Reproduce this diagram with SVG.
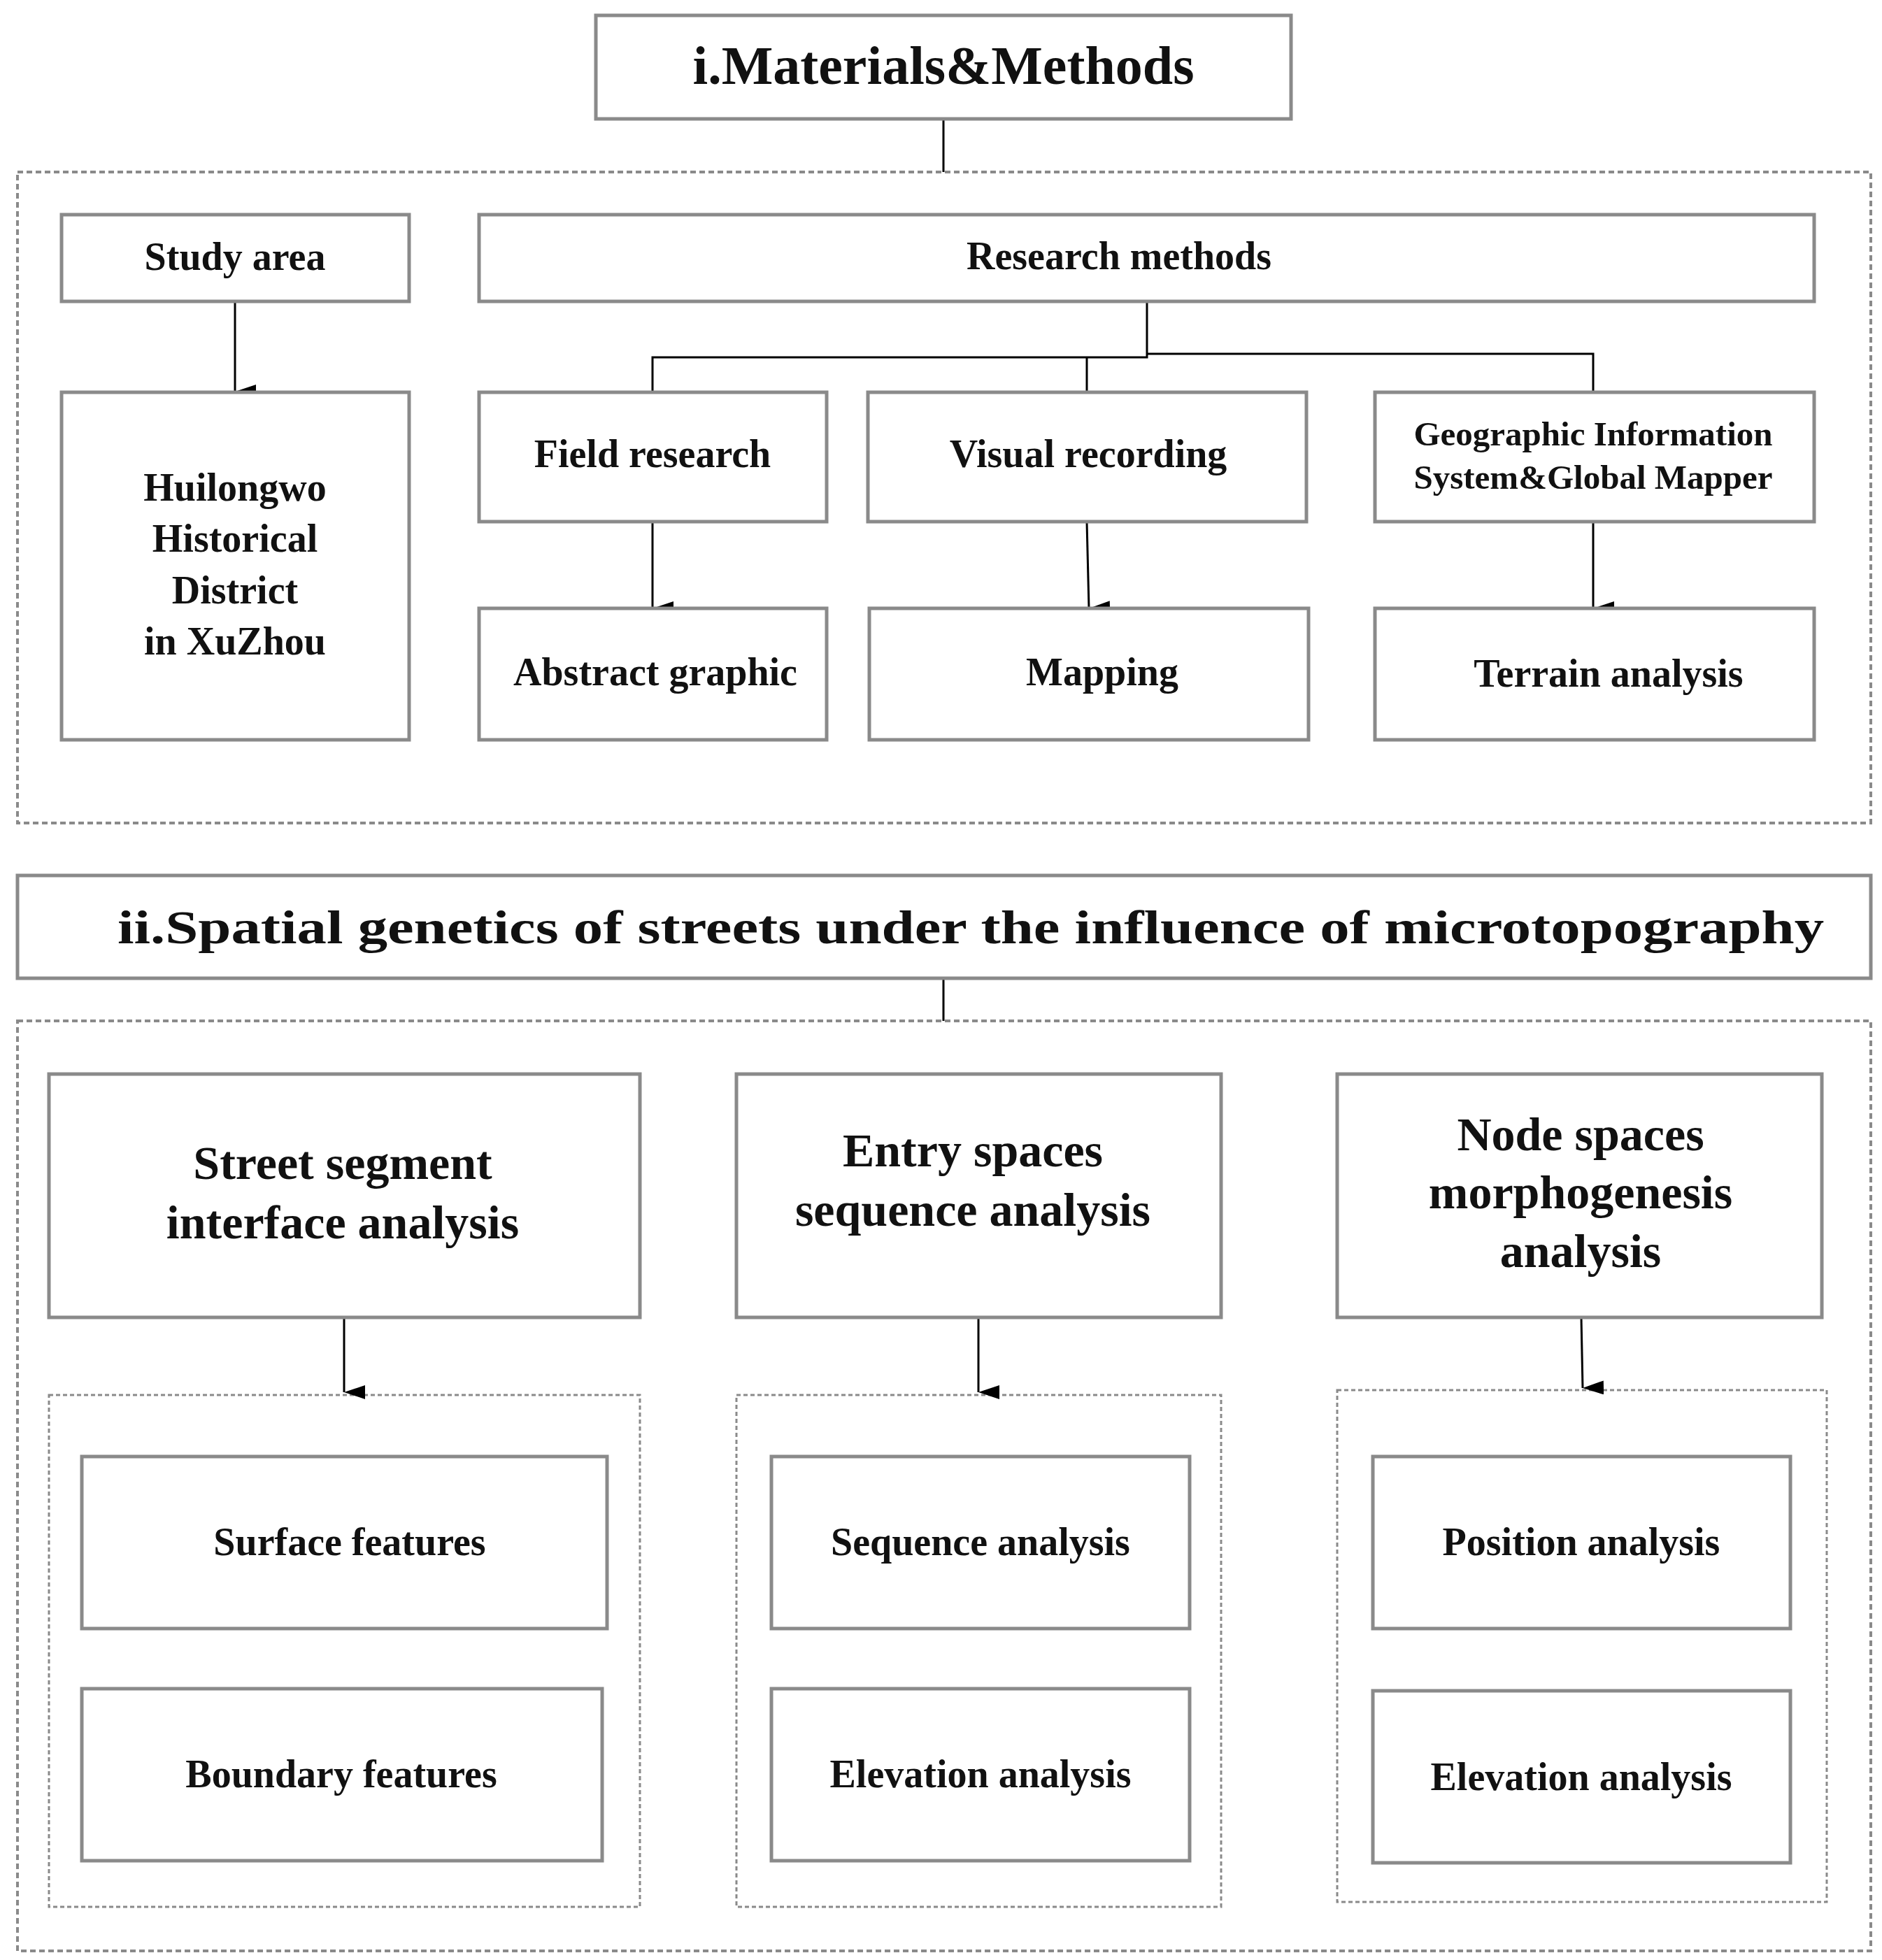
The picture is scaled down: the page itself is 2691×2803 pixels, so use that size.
<svg xmlns="http://www.w3.org/2000/svg" width="2691" height="2803" viewBox="0 0 2691 2803">
<style>
.b{fill:#fff;stroke:#8a8a8a;stroke-width:5}
.d{fill:none;stroke:#8a8a8a;stroke-width:4;stroke-dasharray:8 5}
.ds{fill:none;stroke:#8a8a8a;stroke-width:3;stroke-dasharray:6 4}
.c{fill:none;stroke:#000;stroke-width:3}
text{font-family:"Liberation Serif",serif;font-weight:bold;fill:#111;text-anchor:middle}
.s{font-size:56px}.m{font-size:68px}.l{font-size:78px}
</style>
<defs><marker id="a" markerWidth="12" markerHeight="14" refX="6" refY="14" orient="auto" markerUnits="userSpaceOnUse" viewBox="0 0 12 14"><path d="M0,0 L12,0 L6,14 Z" fill="#000"/></marker>
<marker id="ar" viewBox="0 0 20 30" refX="10" refY="30" markerWidth="20" markerHeight="30" markerUnits="userSpaceOnUse" orient="auto"><path d="M0,0 L20,0 L10,30 Z" fill="#000"/></marker></defs>
<rect fill="#fff" width="2691" height="2803"/>
<rect class="d" x="25" y="246" width="2650" height="931"/>
<rect class="d" x="25" y="1460" width="2650" height="1330"/>
<rect class="ds" x="70" y="1995" width="845" height="732"/>
<rect class="ds" x="1053" y="1995" width="693" height="732"/>
<rect class="ds" x="1912" y="1988" width="700" height="732"/>
<g id="connectors">
<path class="c" d="M1349,170 V246"/>
<path class="c" d="M336,431 V560" marker-end="url(#ar)"/>
<path class="c" d="M1640,431 V511 H933 V561 M1554,511 V561 M1640,506 H2278 V561"/>
<path class="c" d="M933,746 V870" marker-end="url(#ar)"/>
<path class="c" d="M1554,746 L1557,870" marker-end="url(#ar)"/>
<path class="c" d="M2278,746 V870" marker-end="url(#ar)"/>
<path class="c" d="M1349,1399 V1460"/>
<path class="c" d="M492,1884 V1991" marker-end="url(#ar)"/>
<path class="c" d="M1399,1884 V1991" marker-end="url(#ar)"/>
<path class="c" d="M2261,1884 L2263,1985" marker-end="url(#ar)"/>
</g>
<g id="title1"><rect class="b" x="852" y="22" width="994" height="148"/><text class="l" x="1349" y="120">i.Materials&amp;Methods</text></g>
<g id="study"><rect class="b" x="88" y="307" width="497" height="124"/><text class="s" x="336" y="386">Study area</text></g>
<g id="huilongwo"><rect class="b" x="88" y="561" width="497" height="497"/><text class="s" x="336" y="716">Huilongwo</text><text class="s" x="336" y="789">Historical</text><text class="s" x="336" y="863">District</text><text class="s" x="336" y="936">in XuZhou</text></g>
<g id="research"><rect class="b" x="685" y="307" width="1909" height="124"/><text class="s" x="1600" y="385">Research methods</text></g>
<g id="field"><rect class="b" x="685" y="561" width="497" height="185"/><text class="s" x="933" y="668">Field research</text></g>
<g id="visual"><rect class="b" x="1241" y="561" width="627" height="185"/><text class="s" x="1556" y="668">Visual recording</text></g>
<g id="gis"><rect class="b" x="1966" y="561" width="628" height="185"/><text x="2278" y="637" style="font-size:49px">Geographic Information</text><text x="2278" y="699" style="font-size:49px">System&amp;Global Mapper</text></g>
<g id="abstract"><rect class="b" x="685" y="870" width="497" height="188"/><text class="s" x="937" y="980">Abstract graphic</text></g>
<g id="mapping"><rect class="b" x="1243" y="870" width="628" height="188"/><text class="s" x="1576" y="980">Mapping</text></g>
<g id="terrain"><rect class="b" x="1966" y="870" width="628" height="188"/><text class="s" x="2300" y="982">Terrain analysis</text></g>
<g id="title2"><rect class="b" x="25" y="1252" width="2650" height="147"/><text class="m" x="1388" y="1349" textLength="2440" lengthAdjust="spacingAndGlyphs">ii.Spatial genetics of streets under the influence of microtopography</text></g>
<g id="street"><rect class="b" x="70" y="1536" width="845" height="348"/><text class="m" x="490" y="1686">Street segment</text><text class="m" x="490" y="1771">interface analysis</text></g>
<g id="entry"><rect class="b" x="1053" y="1536" width="693" height="348"/><text class="m" x="1391" y="1668">Entry spaces</text><text class="m" x="1391" y="1753">sequence analysis</text></g>
<g id="node"><rect class="b" x="1912" y="1536" width="693" height="348"/><text class="m" x="2260" y="1645">Node spaces</text><text class="m" x="2260" y="1728">morphogenesis</text><text class="m" x="2260" y="1812">analysis</text></g>
<g id="surface"><rect class="b" x="117" y="2083" width="751" height="246"/><text class="s" x="500" y="2224">Surface features</text></g>
<g id="boundary"><rect class="b" x="117" y="2415" width="744" height="246"/><text class="s" x="488" y="2556">Boundary features</text></g>
<g id="sequence"><rect class="b" x="1103" y="2083" width="598" height="246"/><text class="s" x="1402" y="2224">Sequence analysis</text></g>
<g id="elev1"><rect class="b" x="1103" y="2415" width="598" height="246"/><text class="s" x="1402" y="2556">Elevation analysis</text></g>
<g id="position"><rect class="b" x="1963" y="2083" width="597" height="246"/><text class="s" x="2261" y="2224">Position analysis</text></g>
<g id="elev2"><rect class="b" x="1963" y="2418" width="597" height="246"/><text class="s" x="2261" y="2560">Elevation analysis</text></g>
</svg>
